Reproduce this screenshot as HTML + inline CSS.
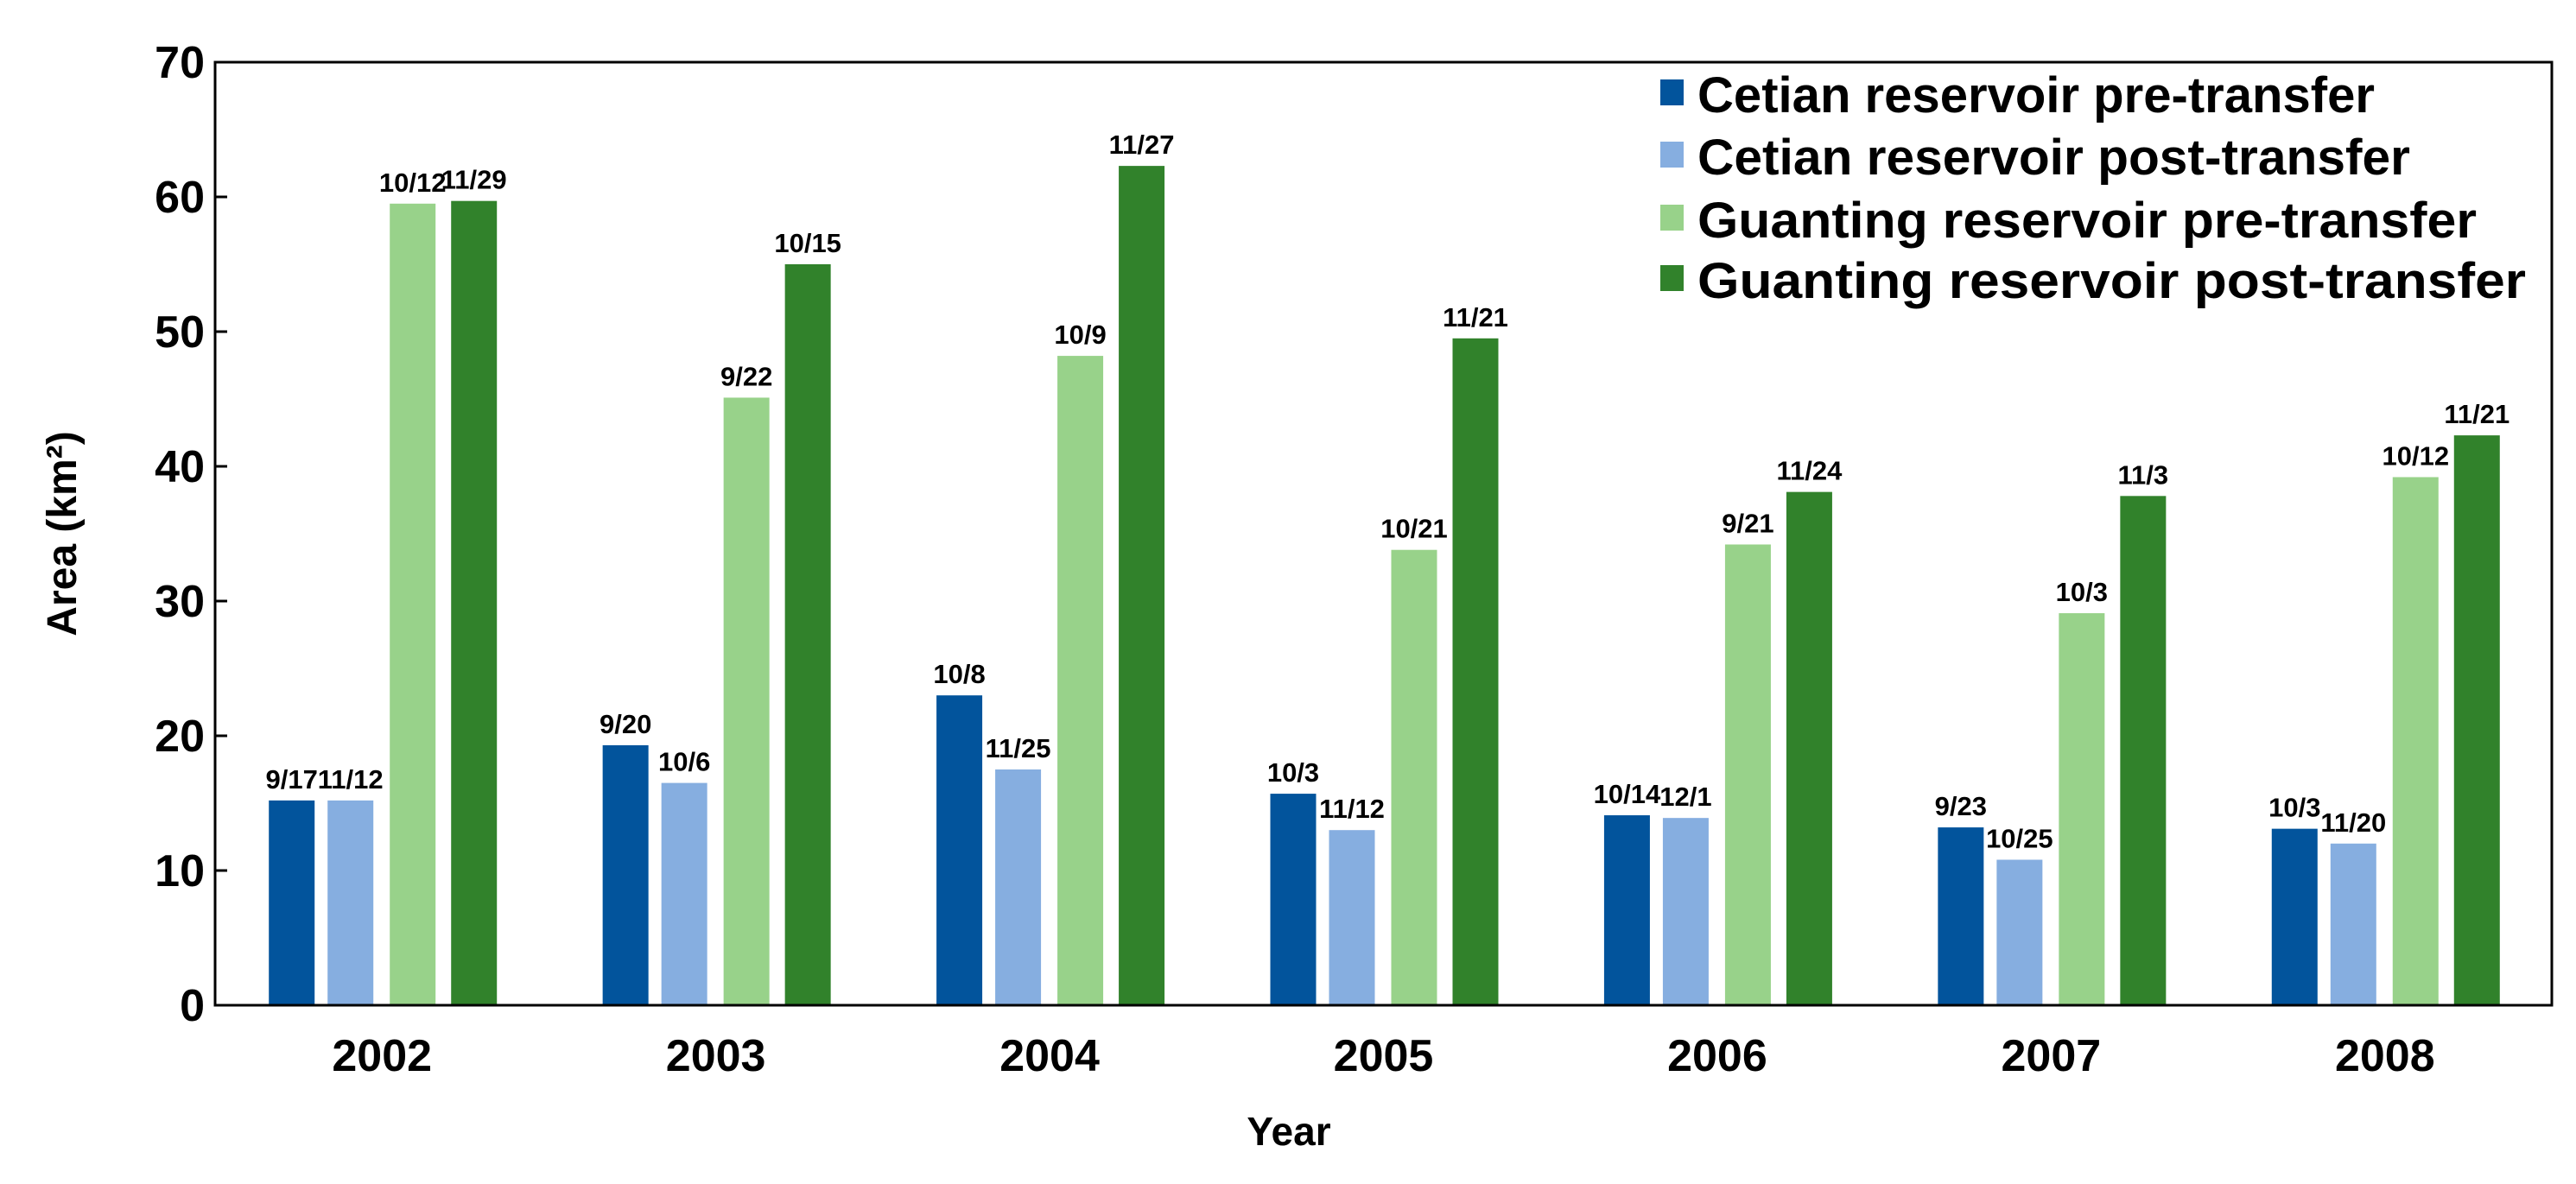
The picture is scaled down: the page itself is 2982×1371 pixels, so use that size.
<!DOCTYPE html>
<html><head><meta charset="utf-8"><style>
html,body{margin:0;padding:0;background:#fff;}
svg{display:block;font-family:"Liberation Sans",Arial,sans-serif;font-weight:bold;}
</style></head><body>
<svg id="chart" width="2982" height="1371" viewBox="0 0 2982 1371" xmlns="http://www.w3.org/2000/svg">
<rect x="0" y="0" width="2982" height="1371" fill="#fff"/>
<g id="bars"></g>
<g id="labels"></g>
<rect x="249" y="72" width="2705" height="1092" fill="none" stroke="#000" stroke-width="3"/>
<g id="yaxis"></g>
<g id="xaxis"></g>
<text x="1492" y="1326" font-size="46" text-anchor="middle">Year</text>
<text transform="translate(88,618) rotate(-90)" font-size="48" text-anchor="middle">Area (km²)</text>
<g id="legend"></g>
</svg>
<script>
const years = ["2002","2003","2004","2005","2006","2007","2008"];
const seriesNames = ["Cetian reservoir pre-transfer","Cetian reservoir post-transfer","Guanting reservoir pre-transfer","Guanting reservoir post-transfer"];
const cetianPre = [15.2,19.3,23.0,15.7,14.1,13.2,13.1];
const cetianPost = [15.2,16.5,17.5,13.0,13.9,10.8,12.0];
const guantingPre = [59.5,45.1,48.2,33.8,34.2,29.1,39.2];
const guantingPost = [59.7,55.0,62.3,49.5,38.1,37.8,42.3];
const cetianPreDates = ["9/17","9/20","10/8","10/3","10/14","9/23","10/3"];
const cetianPostDates = ["11/12","10/6","11/25","11/12","12/1","10/25","11/20"];
const guantingPreDates = ["10/12","9/22","10/9","10/21","9/21","10/3","10/12"];
const guantingPostDates = ["11/29","10/15","11/27","11/21","11/24","11/3","11/21"];
const yTicks = [0,10,20,30,40,50,60,70];

const colors = ["#02549c","#86aee0","#98d28a","#31822b"];
const series = [cetianPre,cetianPost,guantingPre,guantingPost];
const dates = [cetianPreDates,cetianPostDates,guantingPreDates,guantingPostDates];
const NS = "http://www.w3.org/2000/svg";
const L=249,R=2954,T=72,B=1164,YMAX=70;
const y = v => B - v/YMAX*(B-T);
const gw = (R-L)/years.length;
const xc = i => L + gw*(i+0.5);
const barW = 53;
const offs = [-131,-63,9,80];
function mk(tag, attrs, parent){const e=document.createElementNS(NS,tag);for(const k in attrs)e.setAttribute(k,attrs[k]);parent.appendChild(e);return e;}
const gy=document.getElementById('yaxis'), gx=document.getElementById('xaxis'), gb=document.getElementById('bars'), gl=document.getElementById('labels'), lg=document.getElementById('legend');
yTicks.forEach(t=>{
  const ln=mk('line',{x1:L,x2:L+14,y1:y(t),y2:y(t),stroke:'#000','stroke-width':3},gy);
  
  
  const tx=mk('text',{x:L-12,y:y(t)+18,'font-size':52,'text-anchor':'end'},gy);
  tx.textContent=t;
  
  
});
years.forEach((yr,i)=>{
  const tx=mk('text',{x:xc(i),y:1240,'font-size':52,'text-anchor':'middle'},gx);
  tx.textContent=yr;
  
  
  series.forEach((s,k)=>{
    const x0=xc(i)+offs[k];
    const r=mk('rect',{x:x0,y:y(s[i]),width:barW,height:B-y(s[i]),fill:colors[k]},gb);
    
    
    const lb=mk('text',{x:x0+barW/2,y:y(s[i])-14,'font-size':31,'text-anchor':'middle'},gl);
    lb.textContent=dates[k][i];
    
    
  });
});
const legY=[130,202,275,345], legW=[784,825,902,959];
seriesNames.forEach((n,k)=>{
  const sq=mk('rect',{x:1922,y:legY[k]-38,width:27,height:30,fill:colors[k]},lg);
  
  
  const tx=mk('text',{x:1965,y:legY[k],'font-size':58,textLength:legW[k],lengthAdjust:'spacingAndGlyphs'},lg);
  tx.textContent=n;
  
  
});
</script>
</body></html>
